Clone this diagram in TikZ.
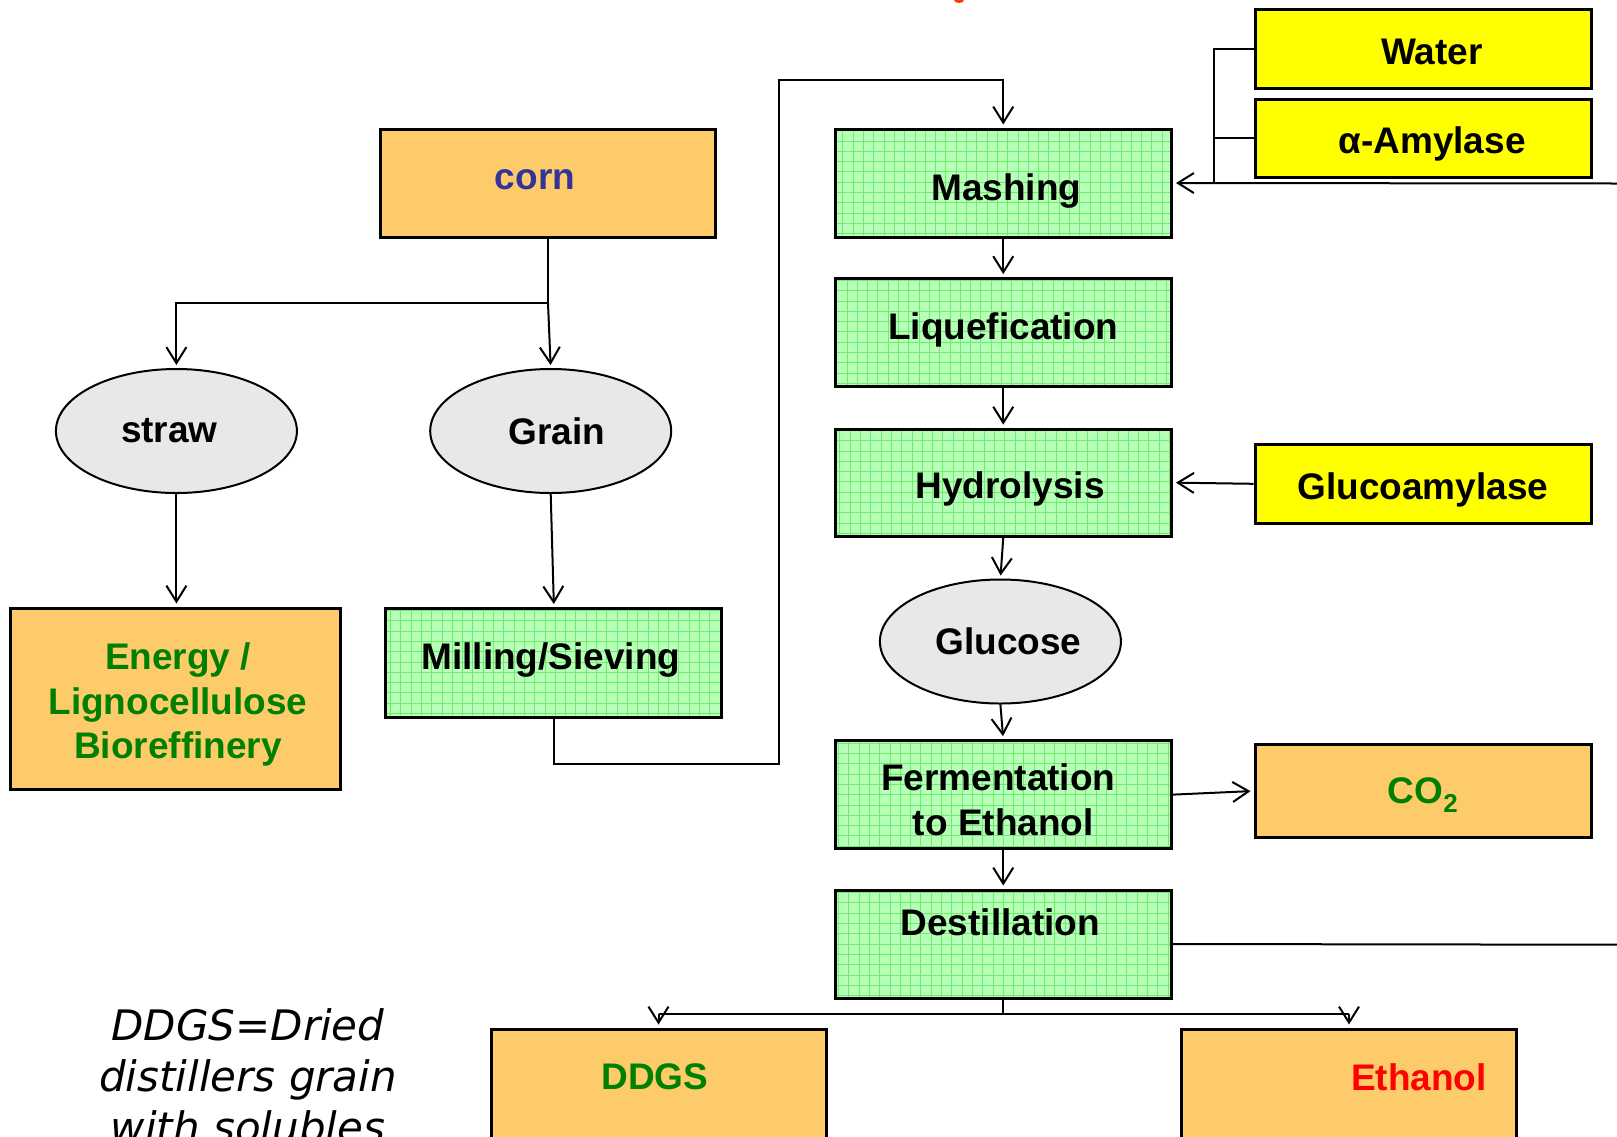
\documentclass[tikz,border=0pt]{standalone}
\usepackage{fontspec}
\setmainfont{Liberation Sans}
\newfontfamily\notefont{DejaVu Sans}
\usetikzlibrary{arrows.meta,shapes.geometric}
\definecolor{boxorange}{RGB}{253,203,106}
\definecolor{boxyellow}{RGB}{255,255,0}
\definecolor{gfill}{RGB}{182,255,182}
\definecolor{gline}{RGB}{112,235,112}
\definecolor{ellgray}{RGB}{232,232,232}
\definecolor{txtgreen}{RGB}{0,128,0}
\definecolor{txtblue}{RGB}{51,51,153}
\definecolor{titlered}{RGB}{255,60,0}
\newcommand\vsh[2]{\raisebox{#1}[\height][\depth]{#2}}
\begin{document}
\begin{tikzpicture}[x=1pt,y=-1pt,
  lbl/.style={font=\fontsize{37}{44.5}\selectfont\bfseries, align=center},
  box/.style={draw=black, line width=3pt, inner sep=0pt, lbl},
  orangebox/.style={box, fill=boxorange},
  yellowbox/.style={box, fill=boxyellow},
  greenbox/.style={box, fill=gfill, path picture={\draw[gline, line width=0.8pt] (path picture bounding box.south west) grid[step=10.3pt] (path picture bounding box.north east);}},
  ell/.style={ellipse, draw=black, line width=2pt, fill=ellgray, minimum width=241pt, minimum height=124pt, inner sep=0pt, lbl},
  conn/.style={line width=2pt, draw=black},
  arr/.style={conn, -{Straight Barb[length=16pt,width=20pt,line width=2pt]}, shorten >=3pt},
]
\useasboundingbox (0,0) rectangle (1617,1136);
\clip (0,0) rectangle (1617,1136);

% title fragment
\fill[titlered] (959,0) ellipse (5pt and 3pt);

% boxes
\node[orangebox, minimum width=335pt, minimum height=108pt, text=txtblue] (corn) at (548,183) {\vsh{3pt}{corn\hspace*{26pt}}};
\node[ell] (straw) at (176.4,431) {straw\hspace*{14pt}};
\node[ell] (grain) at (550.7,431) {\hspace*{12pt}Grain};
\node[orangebox, minimum width=330pt, minimum height=181pt] (energy) at (175,698.5) {};
\node[lbl, text=txtgreen] (energyT) at (178,704.7) {Energy /\\Lignocellulose\\Bioreffinery};
\node[greenbox, minimum width=336pt, minimum height=108.5pt] (milling) at (553.9,662.8) {\vsh{3pt}{Milling/Sieving\hspace*{6pt}}};

\node[yellowbox, minimum width=336pt, minimum height=79pt] (water) at (1423,48.5) {\vsh{-3pt}{\hspace*{18pt}Water}};
\node[yellowbox, minimum width=336pt, minimum height=78pt] (amylase) at (1423,138) {\vsh{-6.2pt}{\hspace*{18pt}α-Amylase}};
\node[greenbox, minimum width=336.5pt, minimum height=108pt] (mash) at (1003.25,183) {\vsh{-8.2pt}{\hspace*{6pt}Mashing}};
\node[greenbox, minimum width=336.5pt, minimum height=108pt] (liq) at (1003.25,332.6) {\vsh{3pt}{Liquefication}};
\node[greenbox, minimum width=336.5pt, minimum height=107pt] (hyd) at (1003.25,482.6) {\vsh{-6.2pt}{\hspace*{14pt}Hydrolysis}};
\node[yellowbox, minimum width=336pt, minimum height=78.5pt] (glucoam) at (1423,483.8) {\vsh{-6.2pt}{Glucoamylase}};
\node[ell] (glucose) at (1000.4,641.5) {\hspace*{16pt}Glucose};
\node[greenbox, minimum width=336.5pt, minimum height=108pt] (ferm) at (1003.25,794.6) {};
\node[lbl] (fermT) at (1003.25,799.8) {Fermentation\hspace*{10pt}\\to Ethanol};
\node[orangebox, minimum width=336pt, minimum height=93pt, text=txtgreen] (co2) at (1423,791) {\vsh{-4pt}{CO\textsubscript{2}}};
\node[greenbox, minimum width=336.5pt, minimum height=108pt] (dest) at (1003.25,944) {};
\node[lbl] (destT) at (1000.4,922) {Destillation};
\node[orangebox, minimum width=335pt, minimum height=111pt] (ddgs) at (658.5,1084.5) {};
\node[lbl, text=txtgreen] (ddgsT) at (655,1077) {DDGS};
\node[orangebox, minimum width=335pt, minimum height=111pt] (ethanol) at (1348.5,1084.5) {};
\node[lbl, text=red] (ethT) at (1419,1077) {Ethanol};

\node[font=\notefont\itshape\fontsize{42}{51}\selectfont, align=center] (note) at (248,1076) {DDGS=Dried\\distillers grain\\with solubles};

% connectors
\coordinate (cj) at (548,303);
\draw[conn] (corn.south) -- (cj);
\draw[arr] (cj) -| (straw.north);
\draw[arr] (cj) -- (grain.north);
\draw[arr] (straw.south) -- (straw.south |- energy.north);
\draw[arr] (grain.south) -- (milling.north);

\coordinate (m1) at (778.6,764);
\coordinate (m2) at (778.6,80.4);
\draw[arr] (milling.south) |- (m1) -- (m2) -| (mash.north);

\draw[arr] (mash) -- (liq);
\draw[arr] (liq) -- (hyd);
\draw[arr] (hyd.south) -- (glucose.north);
\draw[arr] (glucose.south) -- (ferm.north);
\draw[arr] (ferm.east) -- (co2.west);
\draw[arr] (ferm) -- (dest);
\draw[arr] (glucoam.west) -- (hyd.east);

\coordinate (wa) at (1214,183.5);
\coordinate (redge) at (1617,183.5);
\draw[arr] (redge) -- (mash.east);
\draw[conn] (water.west) -| (wa);
\draw[conn] (amylase.west) -- (amylase.west -| wa);

\coordinate (dedge) at (1617,944.7);
\draw[conn] (dest.east) -- (dedge);

\coordinate (dj) at (1003.25,1013.8);
\coordinate (dl) at (658.5,1013.8);
\coordinate (dr) at (1349,1013.8);
\draw[conn] (dest.south) -- (dj);
\draw[line width=2pt] (dl) -- (dr);
\draw[arr] (dl) -- (dl |- ddgs.north);
\draw[arr] (dr) -- (dr |- ethanol.north);
\end{tikzpicture}
\end{document}
